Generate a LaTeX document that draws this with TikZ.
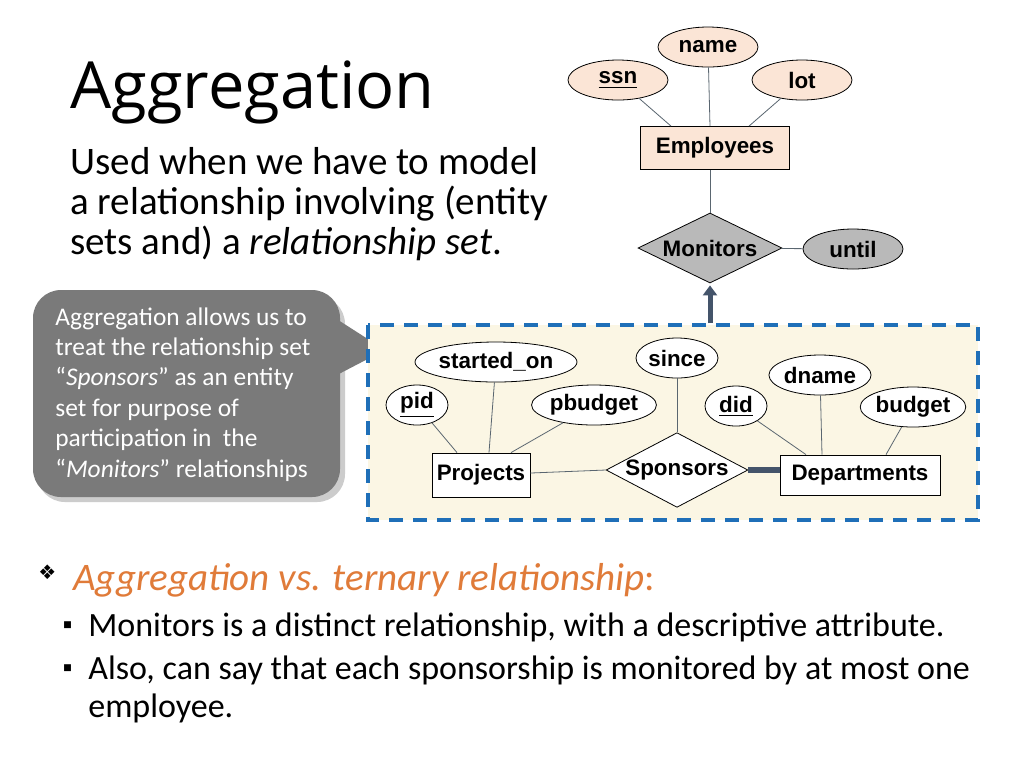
\documentclass[tikz,border=0pt]{standalone}
\usepackage{fontspec}
\setmainfont{Carlito}
\newfontfamily\titlefont{Open Sans}
\newfontfamily\erfont{Liberation Sans}
\newfontfamily\symfont{DejaVu Sans}
\usetikzlibrary{shapes.geometric,arrows.meta}
\definecolor{peach}{HTML}{FBE5D6}
\definecolor{cream}{HTML}{FBF6E4}
\definecolor{dashblue}{HTML}{1F6FB8}
\definecolor{linegray}{HTML}{5A6670}
\definecolor{orangetxt}{HTML}{E07B39}
\definecolor{arrowblue}{HTML}{44546A}
\tikzset{
  erfnt/.style={font=\erfont\bfseries\fontsize{11.2}{13}\selectfont},
  attr/.style={draw,ellipse,inner sep=0pt,minimum width=#1,minimum height=20pt,erfnt},
  ent/.style={draw,rectangle,inner sep=0pt,erfnt},
  rel/.style={draw,diamond,aspect=1.9,inner sep=0pt,erfnt},
  link/.style={linegray,thin},
}
\begin{document}
\begin{tikzpicture}[x=0.5pt,y=-0.5pt]
\useasboundingbox[fill=white] (0,0) rectangle (1024,768);
% title and text
\node[anchor=base west,inner sep=0pt,font=\titlefont\fontsize{32.5}{36}\selectfont] (title) at (70,108) {Aggregation};
\node[anchor=north west,inner sep=0pt,align=left,font=\fontsize{19.5}{20}\selectfont] (intro) at (70,147)
  {Used when we have to model\\a relationship involving (entity\\sets and) a \textit{relationship set}.};
% callout
\fill[black!20,rounded corners=14pt] (37,296) rectangle (345,502);
\fill[black!52,rounded corners=14pt] (33,290) rectangle (340,497);
\fill[black!52] (335,318) -- (385,350) -- (335,376) -- cycle;
\node[anchor=north west,inner sep=0pt,align=left,text=white,font=\fontsize{12.7}{15.2}\selectfont] (note) at (55,307)
  {Aggregation allows us to\\treat the relationship set\\``\textit{Sponsors}'' as an entity\\set for purpose of\\participation in\ \ the\\``\textit{Monitors}'' relationships};
% aggregate box
\draw[dashblue,fill=cream,line width=1.6pt,dash pattern=on 7pt off 5pt] (368,325) rectangle (978,520);
% employees part
\node[attr=50pt,fill=peach] (name) at (708,47) {name};
\node[attr=50pt,fill=peach] (ssn) at (618,80) {\underline{ssn}};
\node[attr=50pt,fill=peach] (lot) at (802,80) {lot};
\node[ent,fill=peach,minimum width=74.5pt,minimum height=21.5pt] (emp) at (715,148) {Employees};
\node[rel,fill=gray!55,minimum width=72pt,minimum height=35pt] (mon) at (710,248) {Monitors};
\node[attr=50pt,fill=gray!55] (until) at (853,249) {until};
\draw[link] (ssn) -- ([xshift=-22pt]emp.north);
\draw[link] (name) -- ([xshift=-2.5pt]emp.north);
\draw[link] (lot) -- ([xshift=17pt]emp.north);
\draw[link] ([xshift=-2.5pt]emp.south) -- (mon.north);
\draw[link] (mon) -- (until);
% sponsors part
\node[attr=57pt,fill=white] (start) at (496,362) {started\_on};
\node[attr=31pt,fill=white] (pid) at (417,405) {\underline{pid}};
\node[attr=55pt,fill=white] (pbud) at (594,405) {pbudget};
\node[attr=41pt,fill=white] (since) at (677,358) {since};
\node[attr=42pt,fill=white] (dname) at (820,375) {dname};
\node[attr=31pt,fill=white] (did) at (736,406) {\underline{did}};
\node[attr=43pt,fill=white] (budget) at (913,407) {budget};
\node[ent,fill=white,minimum width=49pt,minimum height=22pt] (proj) at (481,475) {Projects};
\node[rel,fill=white,minimum width=62.5pt,minimum height=36pt] (spon) at (677,470) {Sponsors};
\node[ent,fill=white,minimum width=80pt,minimum height=20pt] (dept) at (860,475) {Departments};
\draw[link] (pid) -- ([xshift=-12pt]proj.north);
\draw[link] (start) -- ([xshift=4pt]proj.north);
\draw[link] (pbud) -- ([xshift=15pt]proj.north);
\draw[link] (proj) -- (spon.west);
\draw[link] (since) -- (spon.north);
\draw[link] (did) -- ([xshift=-27pt]dept.north);
\draw[link] (dname) -- ([xshift=-19pt]dept.north);
\draw[link] (budget) -- ([xshift=13pt]dept.north);
\draw[arrowblue,line width=3pt] (spon.east) -- (dept.west |- spon.east);
\coordinate (aggtop) at (710,323);
\draw[arrowblue,line width=2.5pt,-{Triangle[length=5pt,width=7pt]}] (aggtop) -- ([yshift=-1pt]mon.south);
% bullets
\node[anchor=base west,inner sep=0pt,font=\symfont\fontsize{10}{12}\selectfont] (b0) at (38,579) {❖};
\node[anchor=base west,inner sep=0pt,text=orangetxt,font=\fontsize{19.5}{22}\selectfont] (l0) at (73,590) {\textit{Aggregation vs. ternary relationship}:};
\node[anchor=base west,inner sep=0pt,font=\symfont\fontsize{4.5}{6}\selectfont] (b1) at (63,627) {■};
\node[anchor=base west,inner sep=0pt,font=\fontsize{17}{18}\selectfont] (l1) at (88,636) {Monitors is a distinct relationship, with a descriptive attribute.};
\node[anchor=base west,inner sep=0pt,font=\symfont\fontsize{4.5}{6}\selectfont] (b2) at (63,670) {■};
\node[anchor=north west,inner sep=0pt,align=left,font=\fontsize{17}{19}\selectfont] (l2) at (88,655) {Also, can say that each sponsorship is monitored by at most one\\employee.};
\end{tikzpicture}
\end{document}
